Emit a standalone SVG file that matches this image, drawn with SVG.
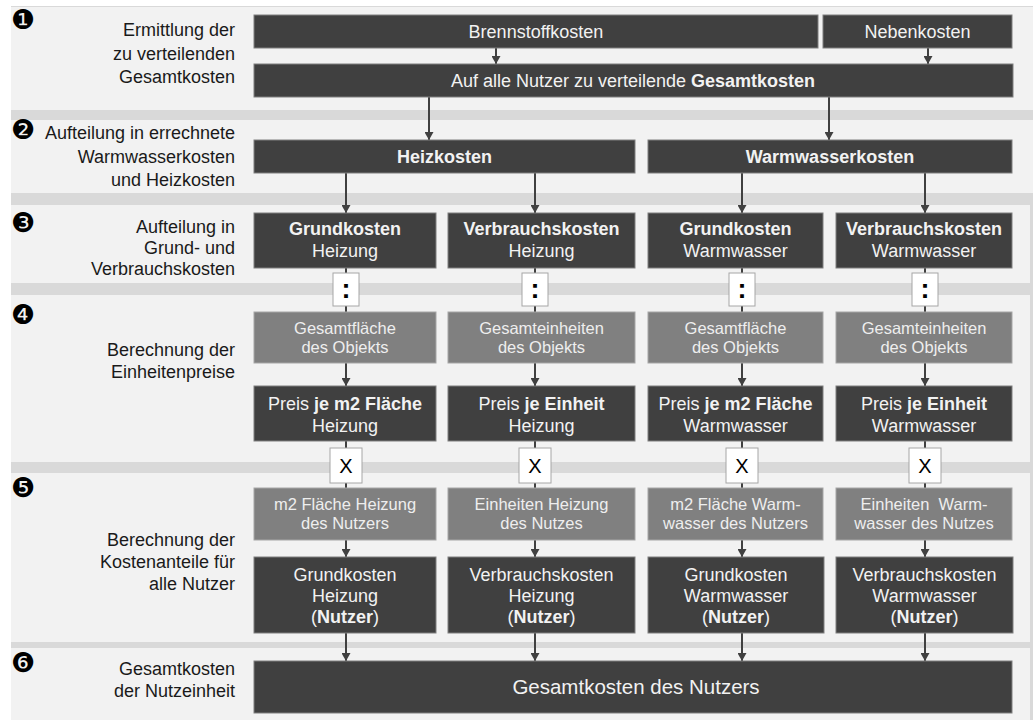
<svg xmlns="http://www.w3.org/2000/svg" width="1033" height="720" viewBox="0 0 1033 720">
<defs>
<style>
text{font-family:"Liberation Sans",Arial,Helvetica,sans-serif;}
.band{fill:#f2f2f2;}
.dk{fill:#404040;stroke:#7f7f7f;stroke-width:1;}
.gr{fill:#808080;stroke:#a6a6a6;stroke-width:1;}
.op{fill:#ffffff;stroke:#a6a6a6;stroke-width:1;}
.lbl{font-size:18px;fill:#1a1a1a;text-anchor:end;}
.num{font-family:"DejaVu Sans",sans-serif;font-size:27px;fill:#000;}
.t{font-size:18px;fill:#f2f2f2;text-anchor:middle;}
.tg{font-size:16.5px;fill:#eeeeee;text-anchor:middle;}
.b{font-weight:bold;}
.opt{font-size:20px;fill:#000;text-anchor:middle;}
.col{font-size:27px;font-weight:bold;fill:#000;text-anchor:middle;}
.ln{stroke:#404040;stroke-width:2;fill:none;}
.ar{stroke:#404040;stroke-width:2;fill:none;marker-end:url(#ah);}
</style>
<marker id="ah" markerUnits="userSpaceOnUse" markerWidth="9" markerHeight="9" refX="8" refY="4.5" orient="auto">
<path d="M0,0 L8,4.5 L0,9 z" fill="#404040"/>
</marker>
</defs>
<rect x="0" y="0" width="1033" height="720" fill="#ffffff"/>
<rect x="11" y="6" width="1022" height="714" fill="#d9d9d9"/>
<g id="bands">
<rect class="band" x="11" y="7" width="1022" height="103"/>
<rect class="band" x="11" y="120" width="1022" height="73"/>
<rect class="band" x="11" y="205" width="1019" height="78"/>
<rect class="band" x="11" y="295" width="1019" height="167"/>
<rect class="band" x="11" y="473" width="1019" height="169"/>
<rect class="band" x="11" y="648" width="1019" height="72"/>
</g>
<g id="labels">
<text class="num" x="11" y="29">❶</text>
<text class="num" x="11" y="139">❷</text>
<text class="num" x="11" y="232">❸</text>
<text class="num" x="11" y="324">❹</text>
<text class="num" x="11" y="497">❺</text>
<text class="num" x="11" y="672">❻</text>
<text class="lbl" x="235" y="36">Ermittlung der</text>
<text class="lbl" x="235" y="60">zu verteilenden</text>
<text class="lbl" x="235" y="83">Gesamtkosten</text>
<text class="lbl" x="235" y="139">Aufteilung in errechnete</text>
<text class="lbl" x="235" y="163">Warmwasserkosten</text>
<text class="lbl" x="235" y="186">und Heizkosten</text>
<text class="lbl" x="235" y="233">Aufteilung in</text>
<text class="lbl" x="235" y="254">Grund- und</text>
<text class="lbl" x="235" y="275">Verbrauchskosten</text>
<text class="lbl" x="235" y="356">Berechnung der</text>
<text class="lbl" x="235" y="378">Einheitenpreise</text>
<text class="lbl" x="235" y="546">Berechnung der</text>
<text class="lbl" x="235" y="568">Kostenanteile für</text>
<text class="lbl" x="235" y="590">alle Nutzer</text>
<text class="lbl" x="235" y="675">Gesamtkosten</text>
<text class="lbl" x="235" y="697">der Nutzeinheit</text>
</g>
<g id="connectors">
<line class="ar" x1="496" y1="48" x2="496" y2="64"/>
<line class="ar" x1="928" y1="48" x2="928" y2="64"/>
<line class="ar" x1="429" y1="97" x2="429" y2="140"/>
<line class="ar" x1="829" y1="97" x2="829" y2="140"/>
<line class="ar" x1="346" y1="173" x2="346" y2="213"/>
<line class="ar" x1="535" y1="173" x2="535" y2="213"/>
<line class="ar" x1="742" y1="173" x2="742" y2="213"/>
<line class="ar" x1="925" y1="173" x2="925" y2="213"/>
<line class="ln" x1="346" y1="268" x2="346" y2="312"/>
<line class="ln" x1="535" y1="268" x2="535" y2="312"/>
<line class="ln" x1="742" y1="268" x2="742" y2="312"/>
<line class="ln" x1="925" y1="268" x2="925" y2="312"/>
<line class="ar" x1="346" y1="363" x2="346" y2="386"/>
<line class="ar" x1="535" y1="363" x2="535" y2="386"/>
<line class="ar" x1="742" y1="363" x2="742" y2="386"/>
<line class="ar" x1="925" y1="363" x2="925" y2="386"/>
<line class="ln" x1="346" y1="441" x2="346" y2="488"/>
<line class="ln" x1="535" y1="441" x2="535" y2="488"/>
<line class="ln" x1="742" y1="441" x2="742" y2="488"/>
<line class="ln" x1="925" y1="441" x2="925" y2="488"/>
<line class="ar" x1="346" y1="540" x2="346" y2="557"/>
<line class="ar" x1="535" y1="540" x2="535" y2="557"/>
<line class="ar" x1="742" y1="540" x2="742" y2="557"/>
<line class="ar" x1="925" y1="540" x2="925" y2="557"/>
<line class="ar" x1="346" y1="633" x2="346" y2="661"/>
<line class="ar" x1="535" y1="633" x2="535" y2="661"/>
<line class="ar" x1="742" y1="633" x2="742" y2="661"/>
<line class="ar" x1="925" y1="633" x2="925" y2="661"/>
</g>
<g id="brennstoffkosten"><rect class="dk" x="254" y="15" width="564" height="33"/><text class="t" x="536" y="38">Brennstoffkosten</text></g>
<g id="nebenkosten"><rect class="dk" x="823" y="15" width="189" height="33"/><text class="t" x="917.5" y="38">Nebenkosten</text></g>
<g id="gesamtkosten"><rect class="dk" x="254" y="64" width="759" height="33"/><text class="t" x="633" y="87">Auf alle Nutzer zu verteilende <tspan class="b">Gesamtkosten</tspan></text></g>
<g id="heizkosten"><rect class="dk" x="254" y="140" width="381" height="33"/><text class="t b" x="444.5" y="163">Heizkosten</text></g>
<g id="warmwasserkosten"><rect class="dk" x="648" y="140" width="364" height="33"/><text class="t b" x="830" y="163">Warmwasserkosten</text></g>
<g id="gk-heiz"><rect class="dk" x="254" y="213" width="182" height="55"/><text class="t" x="345" y="235"><tspan class="b">Grundkosten</tspan><tspan x="345" y="257">Heizung</tspan></text></g>
<g id="vk-heiz"><rect class="dk" x="448" y="213" width="187" height="55"/><text class="t" x="541.5" y="235"><tspan class="b">Verbrauchskosten</tspan><tspan x="541.5" y="257">Heizung</tspan></text></g>
<g id="gk-ww"><rect class="dk" x="648" y="213" width="175" height="55"/><text class="t" x="735.5" y="235"><tspan class="b">Grundkosten</tspan><tspan x="735.5" y="257">Warmwasser</tspan></text></g>
<g id="vk-ww"><rect class="dk" x="836" y="213" width="176" height="55"/><text class="t" x="924" y="235"><tspan class="b">Verbrauchskosten</tspan><tspan x="924" y="257">Warmwasser</tspan></text></g>
<g id="div1"><rect class="op" x="333" y="273" width="26" height="33"/><text class="col" x="346" y="298">:</text></g>
<g id="div2"><rect class="op" x="522" y="273" width="26" height="33"/><text class="col" x="535" y="298">:</text></g>
<g id="div3"><rect class="op" x="729" y="273" width="26" height="33"/><text class="col" x="742" y="298">:</text></g>
<g id="div4"><rect class="op" x="912" y="273" width="26" height="33"/><text class="col" x="925" y="298">:</text></g>
<g id="flaeche-heiz"><rect class="gr" x="254" y="312" width="182" height="51"/><text class="tg" x="345" y="334">Gesamtfläche<tspan x="345" y="353">des Objekts</tspan></text></g>
<g id="einheiten-heiz"><rect class="gr" x="448" y="312" width="187" height="51"/><text class="tg" x="541.5" y="334">Gesamteinheiten<tspan x="541.5" y="353">des Objekts</tspan></text></g>
<g id="flaeche-ww"><rect class="gr" x="648" y="312" width="175" height="51"/><text class="tg" x="735.5" y="334">Gesamtfläche<tspan x="735.5" y="353">des Objekts</tspan></text></g>
<g id="einheiten-ww"><rect class="gr" x="836" y="312" width="176" height="51"/><text class="tg" x="924" y="334">Gesamteinheiten<tspan x="924" y="353">des Objekts</tspan></text></g>
<g id="preis-m2-heiz"><rect class="dk" x="254" y="386" width="182" height="55"/><text class="t" x="345" y="410">Preis <tspan class="b">je m2 Fläche</tspan><tspan x="345" y="432">Heizung</tspan></text></g>
<g id="preis-einheit-heiz"><rect class="dk" x="448" y="386" width="187" height="55"/><text class="t" x="541.5" y="410">Preis <tspan class="b">je Einheit</tspan><tspan x="541.5" y="432">Heizung</tspan></text></g>
<g id="preis-m2-ww"><rect class="dk" x="648" y="386" width="175" height="55"/><text class="t" x="735.5" y="410">Preis <tspan class="b">je m2 Fläche</tspan><tspan x="735.5" y="432">Warmwasser</tspan></text></g>
<g id="preis-einheit-ww"><rect class="dk" x="836" y="386" width="176" height="55"/><text class="t" x="924" y="410">Preis <tspan class="b">je Einheit</tspan><tspan x="924" y="432">Warmwasser</tspan></text></g>
<g id="mul1"><rect class="op" x="330" y="448" width="32" height="35"/><text class="opt" x="346" y="473">X</text></g>
<g id="mul2"><rect class="op" x="519" y="448" width="32" height="35"/><text class="opt" x="535" y="473">X</text></g>
<g id="mul3"><rect class="op" x="726" y="448" width="32" height="35"/><text class="opt" x="742" y="473">X</text></g>
<g id="mul4"><rect class="op" x="909" y="448" width="32" height="35"/><text class="opt" x="925" y="473">X</text></g>
<g id="nutzer-flaeche-heiz"><rect class="gr" x="254" y="488" width="182" height="52"/><text class="tg" x="345" y="510">m2 Fläche Heizung<tspan x="345" y="529">des Nutzers</tspan></text></g>
<g id="nutzer-einheiten-heiz"><rect class="gr" x="448" y="488" width="187" height="52"/><text class="tg" x="541.5" y="510">Einheiten Heizung<tspan x="541.5" y="529">des Nutzes</tspan></text></g>
<g id="nutzer-flaeche-ww"><rect class="gr" x="648" y="488" width="175" height="52"/><text class="tg" x="735.5" y="510">m2 Fläche Warm-<tspan x="735.5" y="529">wasser des Nutzers</tspan></text></g>
<g id="nutzer-einheiten-ww"><rect class="gr" x="836" y="488" width="176" height="52"/><text class="tg" x="924" y="510" xml:space="preserve">Einheiten  Warm-<tspan x="924" y="529">wasser des Nutzes</tspan></text></g>
<g id="gk-heiz-nutzer"><rect class="dk" x="254" y="557" width="182" height="76"/><text class="t" x="345" y="581">Grundkosten<tspan x="345" y="602">Heizung</tspan><tspan x="345" y="623">(<tspan class="b">Nutzer</tspan>)</tspan></text></g>
<g id="vk-heiz-nutzer"><rect class="dk" x="448" y="557" width="187" height="76"/><text class="t" x="541.5" y="581">Verbrauchskosten<tspan x="541.5" y="602">Heizung</tspan><tspan x="541.5" y="623">(<tspan class="b">Nutzer</tspan>)</tspan></text></g>
<g id="gk-ww-nutzer"><rect class="dk" x="648" y="557" width="176" height="76"/><text class="t" x="736" y="581">Grundkosten<tspan x="736" y="602">Warmwasser</tspan><tspan x="736" y="623">(<tspan class="b">Nutzer</tspan>)</tspan></text></g>
<g id="vk-ww-nutzer"><rect class="dk" x="836" y="557" width="177" height="76"/><text class="t" x="924.5" y="581">Verbrauchskosten<tspan x="924.5" y="602">Warmwasser</tspan><tspan x="924.5" y="623">(<tspan class="b">Nutzer</tspan>)</tspan></text></g>
<g id="gesamtkosten-nutzer"><rect class="dk" x="254" y="661" width="758" height="52"/><text class="t" style="font-size:20.5px" x="636" y="694">Gesamtkosten des Nutzers</text></g>
</svg>
